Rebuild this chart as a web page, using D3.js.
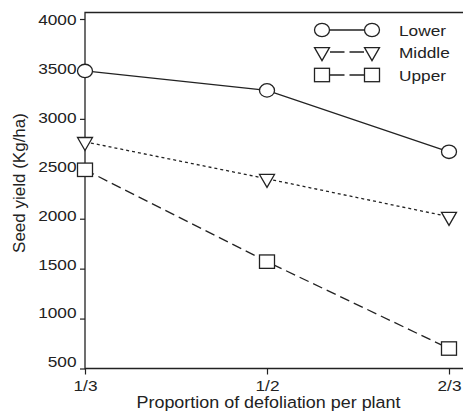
<!DOCTYPE html>
<html>
<head>
<meta charset="utf-8">
<script src="https://cdn.jsdelivr.net/npm/d3@7"></script>
<style>
  body { margin: 0; background: #fff; }
  svg text { font-family: "Liberation Sans", Arial, sans-serif; fill: #222; }
</style>
</head>
<body>
<svg id="chart" width="463" height="412"></svg>
<script>
// data
const categories = ["1/3", "1/2", "2/3"];
const lower = [3480, 3285, 2670];
const middle = [2770, 2400, 2020];
const upper = [2490, 1570, 700];
const yTicks = [500, 1000, 1500, 2000, 2500, 3000, 3500, 4000];
const seriesNames = ["Lower", "Middle", "Upper"];

const svg = d3.select("#chart");
const INK = "#222";
const SX = 1.15; // the source picture is a bit wide

const x = d3.scalePoint().domain(categories).range([85, 449]);
const y = d3.scaleLinear().domain([500, 4000]).range([368.5, 19]);
// the printed labels sit a touch higher than their ticks toward the bottom
const yLab = d3.scaleLinear().domain([500, 4000]).range([361.5, 19.5]);

// frame: left axis, bottom axis, top rule
svg.append("path")
    .attr("d", "M463,12.5H85V368.5H463")
    .attr("fill", "none")
    .attr("stroke", INK)
    .attr("stroke-width", 1.3);

// y axis
const yAxis = svg.append("g")
    .attr("transform", "translate(85,0)")
    .call(d3.axisLeft(y).tickValues(yTicks).tickSize(5).tickPadding(0).tickFormat(d3.format("d")));
yAxis.select(".domain").remove();
yAxis.selectAll(".tick line").attr("stroke", INK).attr("stroke-width", 1.2);
yAxis.selectAll(".tick text")
    .attr("fill", INK)
    .style("font-size", "15px")
    .attr("dy", null)
    .attr("text-anchor", "end")
    .attr("transform", d => `translate(-8.5,${yLab(d) - y(d) + 5.3}) scale(${SX},1)`)
    .attr("x", 0)
    .attr("y", 0);

// x axis
const xAxis = svg.append("g")
    .attr("transform", "translate(0,368.5)")
    .call(d3.axisBottom(x).tickSize(6).tickPadding(0));
xAxis.select(".domain").remove();
xAxis.selectAll(".tick line").attr("stroke", INK).attr("stroke-width", 1.2);
xAxis.selectAll(".tick text")
    .attr("fill", INK)
    .style("font-size", "14.5px")
    .attr("dy", null)
    .attr("x", 0)
    .attr("y", 0)
    .attr("transform", `translate(0,22) scale(${SX + 0.04},1)`);

// axis titles
svg.append("text")
    .attr("text-anchor", "middle")
    .attr("transform", `translate(268.5,407.5) scale(1.1,1)`)
    .style("font-size", "16.3px")
    .text("Proportion of defoliation per plant");

svg.append("text")
    .attr("text-anchor", "middle")
    .attr("transform", "translate(24.5,183) rotate(-90)")
    .style("font-size", "17px")
    .text("Seed yield (Kg/ha)");

// series
const styles = [
    { values: lower, dash: null, legendDash: null, shape: "circle" },
    { values: middle, dash: "3,3", legendDash: "14.5,5", shape: "triangle" },
    { values: upper, dash: "10,5", legendDash: "14.5,5", shape: "square" }
];

const line = d3.line()
    .x((d, i) => x(categories[i]))
    .y(d => y(d));

function drawMarker(g, shape, cx, cy) {
    let m;
    if (shape === "circle") {
        m = g.append("ellipse").attr("cx", cx).attr("cy", cy).attr("rx", 7.5).attr("ry", 6.7);
    } else if (shape === "square") {
        m = g.append("rect").attr("x", cx - 7.5).attr("y", cy - 6.7).attr("width", 15).attr("height", 13.4);
    } else {
        m = g.append("path")
            .attr("d", d3.symbol(d3.symbolTriangle, 97)())
            .attr("transform", `translate(${cx},${cy}) rotate(180)`);
    }
    m.attr("fill", "#fff").attr("stroke", INK).attr("stroke-width", 1.3);
}

styles.forEach(s => {
    svg.append("path")
        .datum(s.values)
        .attr("d", line)
        .attr("fill", "none")
        .attr("stroke", INK)
        .attr("stroke-width", 1.3)
        .attr("stroke-dasharray", s.dash);
    const g = svg.append("g");
    s.values.forEach((v, i) => drawMarker(g, s.shape, x(categories[i]), y(v)));
});

// legend
const legendY = [30, 52, 75];
styles.forEach((s, i) => {
    const g = svg.append("g");
    g.append("line")
        .attr("x1", 330).attr("x2", 364)
        .attr("y1", legendY[i]).attr("y2", legendY[i])
        .attr("stroke", INK)
        .attr("stroke-width", 1.3)
        .attr("stroke-dasharray", s.legendDash);
    drawMarker(g, s.shape, 322, legendY[i]);
    drawMarker(g, s.shape, 372, legendY[i]);
    g.append("text")
        .attr("transform", `translate(399,${legendY[i] + 5.5}) scale(${SX},1)`)
        .style("font-size", "15px")
        .text(seriesNames[i]);
});
</script>
</body>
</html>
